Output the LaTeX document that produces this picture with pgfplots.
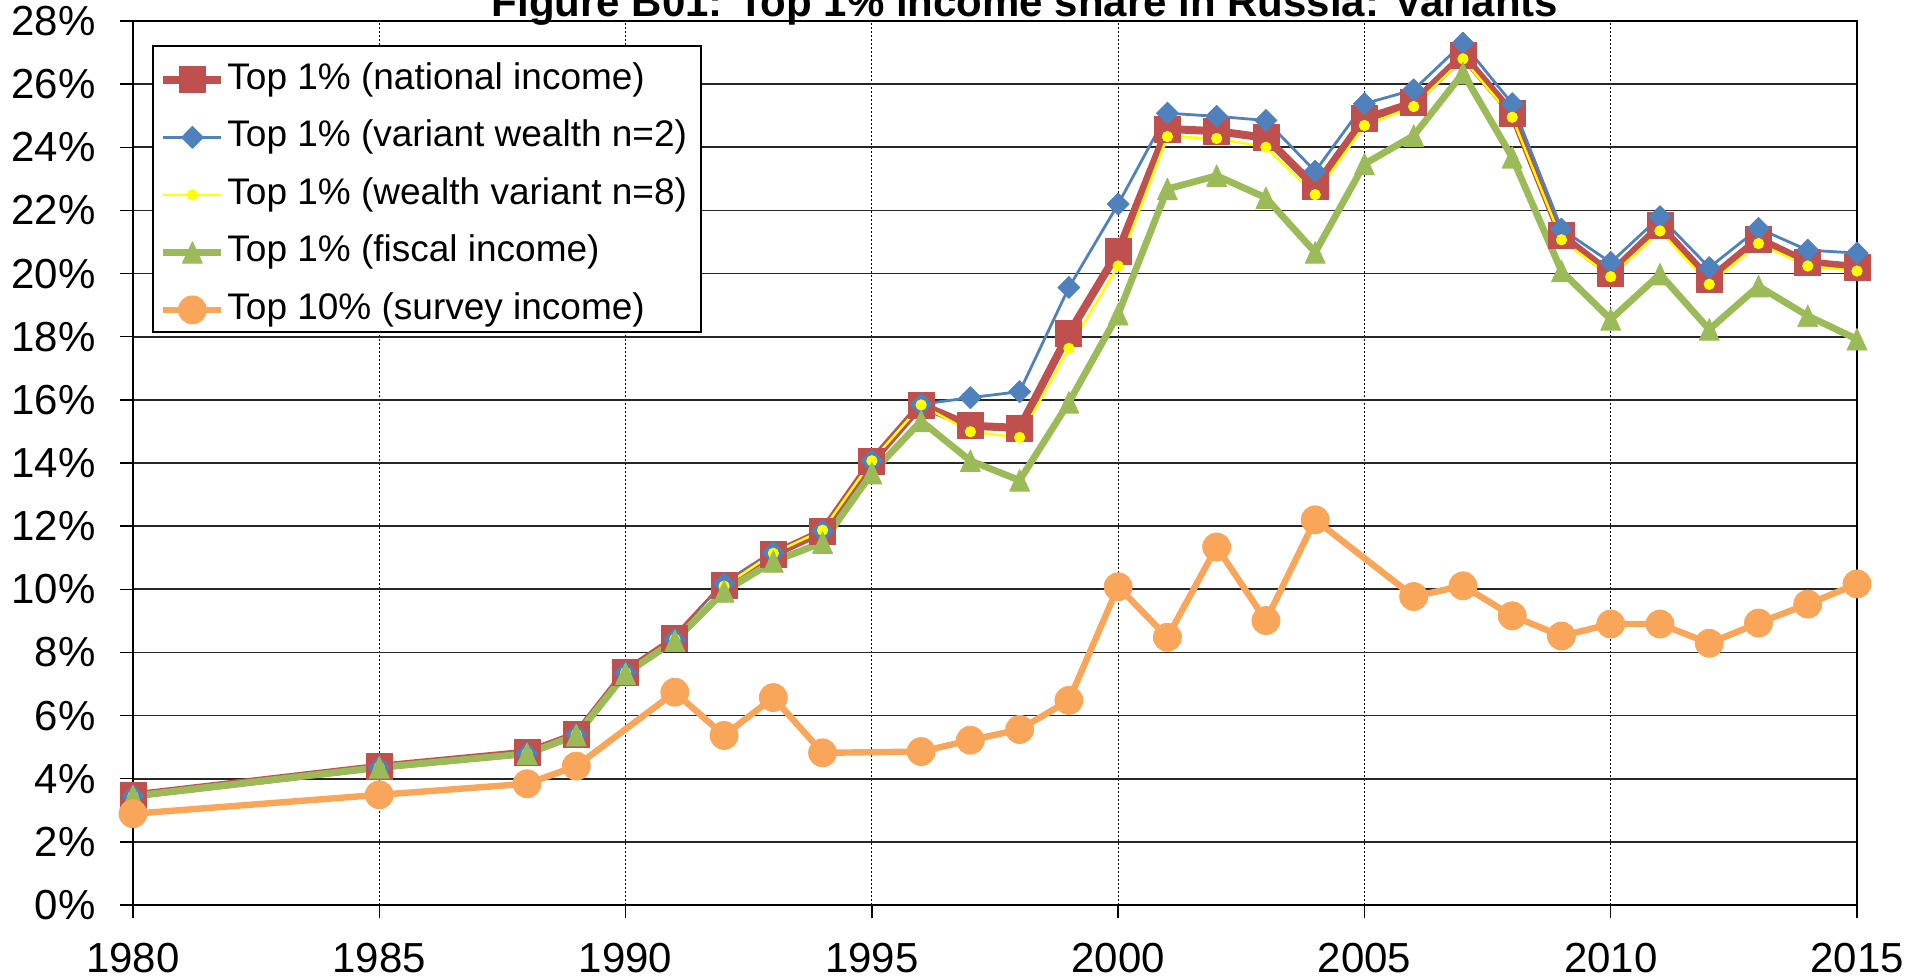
\documentclass[border=0pt]{standalone}
\usepackage{fontspec}
\setmainfont{Liberation Sans}
\usepackage{pgfplots}
\usepackage{pgfplotstable}
\pgfplotsset{compat=1.18}
\definecolor{cred}{HTML}{C0504D}
\definecolor{cblue}{HTML}{4F81BD}
\definecolor{cyel}{HTML}{FFFF00}
\definecolor{cgreen}{HTML}{9BBB59}
\definecolor{corange}{HTML}{F9A65A}

\pgfplotstableread{
year national wealthtwo wealtheight fiscal
1980 3.47 3.45 3.45 3.45
1985 4.38 4.36 4.36 4.36
1988 4.83 4.80 4.80 4.79
1989 5.40 5.40 5.40 5.38
1990 7.38 7.36 7.36 7.33
1991 8.43 8.42 8.42 8.37
1992 10.11 10.18 10.10 9.93
1993 11.11 11.16 11.14 10.88
1994 11.83 11.85 11.87 11.48
1995 14.05 14.07 14.07 13.68
1996 15.84 15.86 15.84 15.33
1997 15.18 16.07 14.99 14.07
1998 15.11 16.26 14.81 13.45
1999 18.10 19.56 17.63 15.92
2000 20.70 22.20 20.24 18.71
2001 24.58 25.08 24.34 22.68
2002 24.51 24.98 24.28 23.10
2003 24.30 24.85 24.00 22.40
2004 22.75 23.24 22.50 20.67
2005 24.90 25.38 24.69 23.47
2006 25.41 25.82 25.29 24.37
2007 26.91 27.30 26.80 26.35
2008 25.08 25.38 24.95 23.68
2009 21.20 21.41 21.07 20.08
2010 20.00 20.35 19.90 18.55
2011 21.51 21.80 21.35 19.98
2012 19.82 20.19 19.66 18.23
2013 21.09 21.43 20.95 19.60
2014 20.35 20.74 20.24 18.66
2015 20.21 20.65 20.08 17.92
}\topone

\pgfplotstableread{
year survey
1980 2.89
1985 3.49
1988 3.84
1989 4.40
1991 6.74
1992 5.37
1993 6.57
1994 4.82
1996 4.86
1997 5.22
1998 5.56
1999 6.48
2000 10.08
2001 8.48
2002 11.34
2003 9.01
2004 12.20
2006 9.77
2007 10.11
2008 9.16
2009 8.52
2010 8.90
2011 8.90
2012 8.29
2013 8.93
2014 9.53
2015 10.17
}\topten

\begin{document}
\begin{tikzpicture}
\begin{axis}[
  name=ax,
  scale only axis, width=862pt, height=442pt,
  xmin=1980, xmax=2015, ymin=0, ymax=28,
  xtick={1980,1985,...,2015},
  xticklabels={1980,1985,1990,1995,2000,2005,2010,2015},
  ytick={0,2,...,28},
  yticklabels={0\%,2\%,4\%,6\%,8\%,10\%,12\%,14\%,16\%,18\%,20\%,22\%,24\%,26\%,28\%},
  tick pos=left, tick align=outside, major tick length=6.5pt,
  tick style={black, line width=0.75pt},
  axis line style={black, line width=0.75pt},
  grid=major,
  x grid style={black, line width=0.5pt, dash pattern=on 1pt off 1pt},
  y grid style={black!85, line width=0.9pt},
  xticklabel style={font=\fontsize{21}{25}\selectfont, inner sep=0pt, anchor=north, yshift=-12.5pt},
  yticklabel style={font=\fontsize{21}{25}\selectfont, inner sep=0pt, anchor=east, xshift=-12pt},
  legend style={at={(0,1)}, anchor=north west, xshift=10pt, yshift=-15pt,
    draw=none, fill=none,
    font=\fontsize{18.5}{22}\selectfont, inner sep=3pt, row sep=6.25pt,
    nodes={inner xsep=1pt, inner ysep=2pt, text height=14pt, text depth=4.5pt, anchor=west}},
  legend cell align=left,
  legend image code/.code={\draw[mark repeat=2, mark phase=2] plot coordinates {(0pt,0pt) (14.5pt,0pt) (29pt,0pt)};},
  every axis plot/.append style={line join=round},
]
\filldraw[fill=white, draw=black, line width=1pt] ([shift={(10pt,-12.5pt)}]rel axis cs:0,1) rectangle ([shift={(284pt,-155.5pt)}]rel axis cs:0,1);
\addplot[color=cred, line width=4pt, mark=square*, mark size=6.5pt, mark options={solid, line width=0.4pt}] table[x=year, y=national] {\topone};
\addlegendentry{Top 1\% (national income)}
\addplot[color=cblue, line width=1.4pt, mark=diamond*, mark size=5.5pt, mark options={solid, line width=0.4pt, xscale=1.33}] table[x=year, y=wealthtwo] {\topone};
\addlegendentry{Top 1\% (variant wealth n=2)}
\addplot[color=cyel, line width=1.2pt, mark=*, mark size=2.6pt, mark options={solid, line width=0.4pt}] table[x=year, y=wealtheight] {\topone};
\addlegendentry{Top 1\% (wealth variant n=8)}
\addplot[color=cgreen, line width=3.4pt, mark=triangle*, mark size=7.2pt, mark options={solid, line width=0.4pt, xscale=0.8, yshift=-1.8pt}] table[x=year, y=fiscal] {\topone};
\addlegendentry{Top 1\% (fiscal income)}
\addplot[color=corange, line width=3.2pt, mark=*, mark size=7pt, mark options={solid, line width=0.4pt}] table[x=year, y=survey] {\topten};
\addlegendentry{Top 10\% (survey income)}
\end{axis}
\node[anchor=base, inner sep=0pt, font=\bfseries\fontsize{21}{25}\selectfont] at ([shift={(446pt,2.25pt)}]ax.north west) {Figure B01: Top 1\% income share in Russia: Variants};
\pgfresetboundingbox
\path[use as bounding box] ([shift={(-66.5pt,-37pt)}]ax.south west) rectangle ([shift={(31pt,10.5pt)}]ax.north east);
\end{tikzpicture}
\end{document}
